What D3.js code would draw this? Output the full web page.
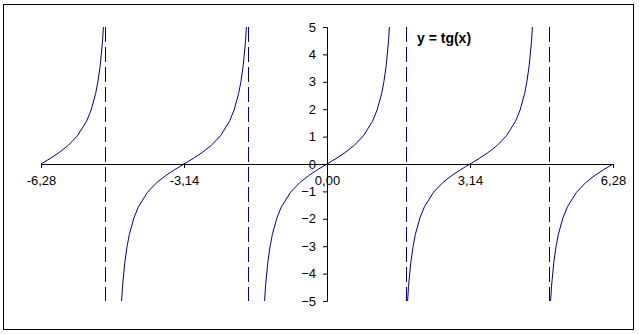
<!DOCTYPE html>
<head>
    <meta charset="utf-8">
    <script src="https://d3js.org/d3.v7.min.js"></script>
    <style>
        body { margin: 0; background: #fff; }
        text { font-family: "Liberation Sans", Arial, sans-serif; }
    </style>
</head>
<body>
    <svg></svg>
    <script>
        // points, null = break at an asymptote
        var tgX = [-6.28, -6.08, -5.88, -5.68, -5.48, -5.28, -5.18, -5.08, -5.03, -4.98, -4.93, -4.91, null,
                   -4.51, -4.49, -4.44, -4.39, -4.34, -4.24, -4.14, -3.94, -3.74, -3.54, -3.34, -3.14,
                   -2.94, -2.74, -2.54, -2.34, -2.14, -2.04, -1.94, -1.89, -1.84, -1.79, -1.77, null,
                   -1.37, -1.35, -1.30, -1.25, -1.20, -1.10, -1.00, -0.80, -0.60, -0.40, -0.20, 0.00,
                   0.20, 0.40, 0.60, 0.80, 1.00, 1.10, 1.20, 1.25, 1.30, 1.35, 1.37, null,
                   1.77, 1.79, 1.84, 1.89, 1.94, 2.04, 2.14, 2.34, 2.54, 2.74, 2.94, 3.14,
                   3.34, 3.54, 3.74, 3.94, 4.14, 4.24, 4.34, 4.39, 4.44, 4.49, 4.51, null,
                   4.91, 4.93, 4.98, 5.03, 5.08, 5.18, 5.28, 5.48, 5.68, 5.88, 6.08, 6.28];
        var tgY = [0, 0.20, 0.42, 0.68, 1.03, 1.56, 1.97, 2.57, 3.01, 3.60, 4.46, 5.00, null,
                   -5.00, -4.46, -3.60, -3.01, -2.57, -1.97, -1.56, -1.03, -0.68, -0.42, -0.20, 0,
                   0.20, 0.42, 0.68, 1.03, 1.56, 1.97, 2.57, 3.01, 3.60, 4.46, 5.00, null,
                   -5.00, -4.46, -3.60, -3.01, -2.57, -1.97, -1.56, -1.03, -0.68, -0.42, -0.20, 0,
                   0.20, 0.42, 0.68, 1.03, 1.56, 1.97, 2.57, 3.01, 3.60, 4.46, 5.00, null,
                   -5.00, -4.46, -3.60, -3.01, -2.57, -1.97, -1.56, -1.03, -0.68, -0.42, -0.20, 0,
                   0.20, 0.42, 0.68, 1.03, 1.56, 1.97, 2.57, 3.01, 3.60, 4.46, 5.00, null,
                   -5.00, -4.46, -3.60, -3.01, -2.57, -1.97, -1.56, -1.03, -0.68, -0.42, -0.20, 0];
        var asymptotes = [-4.87, -1.73, 1.73, 4.87];
        var xTicks = [-6.28, -3.14, 0, 3.14, 6.28];
        var yTicks = [-5, -4, -3, -2, -1, 0, 1, 2, 3, 4, 5];

        var W = 639, H = 334;
        var x = d3.scaleLinear().domain([-6.28, 6.28]).range([41, 613]);
        var y = d3.scaleLinear().domain([-5, 5]).range([301, 27]);

        var svg = d3.select("svg").attr("width", W).attr("height", H);

        // outer frame
        svg.append("rect")
            .attr("x", 3.5).attr("y", 4.5)
            .attr("width", 630).attr("height", 325)
            .attr("fill", "#fff").attr("stroke", "#000").attr("stroke-width", 1);

        // x axis through y = 0
        var xAxis = svg.append("g")
            .attr("transform", "translate(0," + Math.round(y(0)) + ")")
            .call(d3.axisBottom(x).tickValues(xTicks).tickSize(4).tickPadding(8)
                .tickFormat(function (d) { return d.toFixed(2).replace(".", ","); }));
        // y axis through x = 0
        var yAxis = svg.append("g")
            .attr("transform", "translate(" + Math.round(x(0)) + ",0)")
            .call(d3.axisLeft(y).tickValues(yTicks).tickSize(4).tickPadding(7)
                .tickFormat(d3.format("d")));
        [xAxis, yAxis].forEach(function (a) {
            a.select(".domain").attr("stroke", "#000");
            a.selectAll(".tick line").attr("stroke", "#000");
            a.selectAll("text").attr("fill", "#000")
                .style("font-size", "13px")
                .style("font-family", "'Liberation Sans', Arial, sans-serif");
        });

        // dashed asymptotes
        svg.selectAll(".asym").data(asymptotes).enter().append("line")
            .attr("class", "asym")
            .attr("x1", function (d) { return Math.round(x(d)) + 0.5; })
            .attr("x2", function (d) { return Math.round(x(d)) + 0.5; })
            .attr("y1", y(5)).attr("y2", y(-5))
            .attr("stroke", "#000080").attr("stroke-width", 1)
            .attr("stroke-dasharray", "15,5");

        // the tangent curve
        var pts = tgX.map(function (v, i) { return { x: v, y: tgY[i] }; });
        var line = d3.line()
            .defined(function (d) { return d.x !== null && d.y !== null; })
            .x(function (d) { return x(d.x); })
            .y(function (d) { return y(d.y); });
        svg.append("path")
            .datum(pts)
            .attr("d", line)
            .attr("fill", "none")
            .attr("stroke", "#000080")
            .attr("stroke-width", 1);

        // label
        svg.append("text")
            .attr("x", 417).attr("y", 43)
            .style("font-size", "14px")
            .style("font-weight", "bold")
            .attr("fill", "#000")
            .text("y = tg(x)");
    </script>
</body>
